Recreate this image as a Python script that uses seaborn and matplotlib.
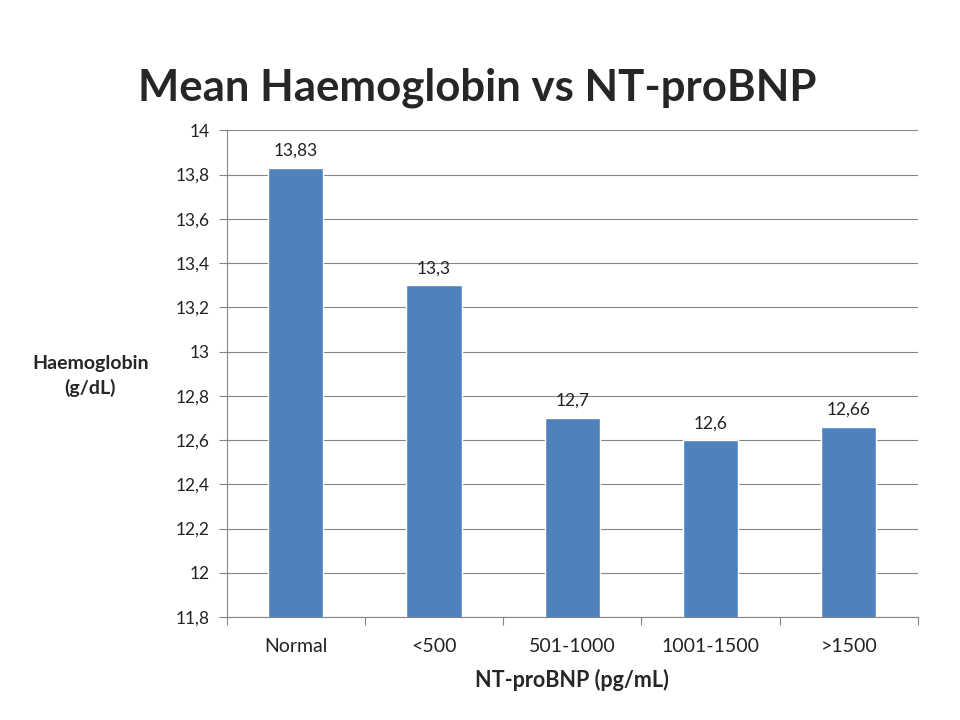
import matplotlib
matplotlib.use('Agg')
import matplotlib.pyplot as plt
import seaborn as sns
import pandas as pd
import numpy as np

# Data
CATEGORIES = ['Normal', '<500', '501-1000', '1001-1500', '>1500']
HAEMOGLOBIN = [13.83, 13.3, 12.7, 12.6, 12.66]
VALUE_LABELS = ['13,83', '13,3', '12,7', '12,6', '12,66']
Y_TICKS = [11.8, 12, 12.2, 12.4, 12.6, 12.8, 13, 13.2, 13.4, 13.6, 13.8, 14]
Y_TICK_LABELS = ['11,8', '12', '12,2', '12,4', '12,6', '12,8', '13', '13,2', '13,4', '13,6', '13,8', '14']

BAR_COLOR = '#4F81BD'
GRID_COLOR = '#868686'

sns.set_theme(style='white')
plt.rcParams['font.family'] = ['Lato', 'DejaVu Sans']

df = pd.DataFrame({'group': CATEGORIES, 'hb': HAEMOGLOBIN})

fig = plt.figure(figsize=(9.6, 7.2), dpi=100)
ax = fig.add_axes([0.236, 0.143, 0.72, 0.676])

sns.barplot(data=df, x='group', y='hb', color=BAR_COLOR, width=0.4,
            saturation=1, ax=ax, zorder=3)

ax.set_ylim(11.8, 14)
ax.set_xlim(-0.5, len(CATEGORIES) - 0.5)
ax.set_yticks(Y_TICKS)
ax.set_yticklabels(Y_TICK_LABELS, fontsize=12.5, color='#222222')
ax.set_xticks(range(len(CATEGORIES)))
ax.set_xticklabels(CATEGORIES, fontsize=14, color='#222222')
ax.tick_params(axis='x', length=0, pad=15)
ax.tick_params(axis='y', length=6, width=0.8, color=GRID_COLOR, pad=6, left=True)

# category separator ticks on x axis
ax.set_xticks(np.arange(-0.5, len(CATEGORIES)), minor=True)
ax.tick_params(axis='x', which='minor', length=6, width=0.8, color=GRID_COLOR, bottom=True)

ax.yaxis.grid(True, color=GRID_COLOR, linewidth=0.8, zorder=0)
ax.set_axisbelow(True)
for side in ['top', 'right']:
    ax.spines[side].set_visible(False)
for side in ['left', 'bottom']:
    ax.spines[side].set_color(GRID_COLOR)
    ax.spines[side].set_linewidth(0.8)

for i, (v, lab) in enumerate(zip(HAEMOGLOBIN, VALUE_LABELS)):
    ax.text(i, v + 0.04, lab, ha='center', va='bottom', fontsize=12.5, color='#222222')

ax.set_xlabel('NT-proBNP (pg/mL)', fontsize=15.5, fontweight='bold', labelpad=10)
ax.set_ylabel('')
fig.text(0.094, 0.478, 'Haemoglobin\n(g/dL)', ha='center', va='center',
         fontsize=14, fontweight='bold', linespacing=1.5)

fig.text(0.497, 0.878, 'Mean Haemoglobin vs NT-proBNP', ha='center', va='center',
         fontsize=31.5, fontweight='bold')

fig.savefig('out.png', dpi=100)
